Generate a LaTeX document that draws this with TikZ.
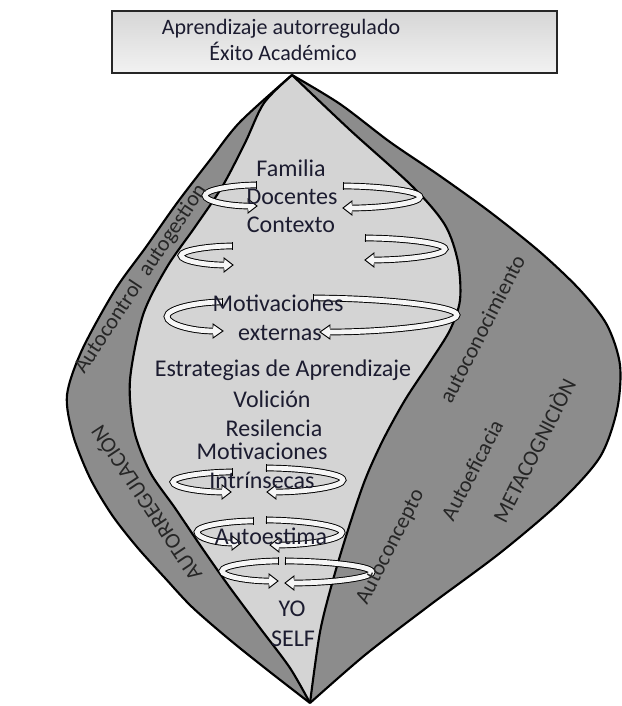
\documentclass[tikz,border=0pt]{standalone}
\usepackage{fontspec}
\setmainfont{Carlito}
\definecolor{darkband}{RGB}{140,140,140}
\definecolor{lightband}{RGB}{212,212,212}
\definecolor{arrowfill}{RGB}{246,246,246}
\definecolor{ink}{RGB}{28,28,48}
\definecolor{inkgray}{RGB}{38,38,38}
\definecolor{boxtop}{RGB}{214,214,214}
\definecolor{boxbot}{RGB}{242,242,242}

% U-turn arrow: #1 x of flat top end, #2 y top arm, #3 x of loop extreme,
% #4 y bottom arm, #5 x of arrow-head base, #6 signed head length
\newcommand{\uturnarrow}[6]{%
  \pgfmathsetmacro{\ymid}{(#2+#4)/2}%
  \pgfmathsetmacro{\ca}{#3+0.55*(#1-#3)}%
  \pgfmathsetmacro{\cb}{#3+0.55*(#5-#3)}%
  \pgfmathsetmacro{\hh}{0.55*(#4-#2)/2}%
  \pgfmathsetmacro{\ya}{\ymid-\hh}%
  \pgfmathsetmacro{\yb}{\ymid+\hh}%
  \pgfmathsetmacro{\tip}{#5+#6}%
  \draw[uband] (#1,#2) .. controls (\ca,#2) and (#3,\ya) .. (#3,\ymid)
     .. controls (#3,\yb) and (\cb,#4) .. (#5,#4);
  \draw[line width=0.7pt] (#1,#2-3.7) -- (#1,#2+3.7);
  \filldraw[fill=arrowfill, line width=0.7pt]
     (#5,#4-3.7) -- (#5,#4-7) -- (\tip,#4) -- (#5,#4+7) -- (#5,#4+3.7);
}

\begin{document}
\begin{tikzpicture}[x=0.75pt,y=-0.75pt,
  edge/.style={line width=1.6pt,black},
  uband/.style={double=arrowfill,double distance=3.6pt,line width=0.7pt,black},
  lbl/.style={font=\fontsize{18}{21}\selectfont,text=ink,inner sep=0pt},
  boxlbl/.style={font=\fontsize{16.5}{19}\selectfont,text=ink,inner sep=0pt},
  rlbl/.style={font=\fontsize{16.5}{19}\selectfont,text=inkgray,inner sep=0pt}]
\useasboundingbox (0,0) rectangle (621,706);

% whole outer shape (dark)
\fill[darkband]
  plot[smooth] coordinates {(292,75) (240,122) (210,160) (177,203) (146,247) (115,290) (82,350) (67,395) (73,435) (90,478) (112,515) (137,547) (165,578) (192,607) (230,640) (270,672) (310,703)}
  -- plot[smooth] coordinates {(310,703) (365,655) (430,605) (500,553) (560,502) (600,457) (617,410) (620,365) (607,325) (580,290) (540,252) (490,212) (440,176) (390,142) (340,104) (292,75)}
  -- cycle;
% light central region
\fill[lightband]
  plot[smooth] coordinates {(292,75) (264,103) (245,143) (222,187) (195,227) (167,267) (143,315) (130,380) (134,430) (150,472) (175,508) (200,545) (228,585) (260,628) (290,668) (310,703)}
  -- plot[smooth] coordinates {(310,703) (320,632) (333,580) (348,530) (365,480) (383,440) (405,400) (430,362) (450,330) (460,300) (458,262) (445,225) (413,187) (350,130) (292,75)}
  -- cycle;
% outlines
\draw[edge] plot[smooth] coordinates {(292,75) (240,122) (210,160) (177,203) (146,247) (115,290) (82,350) (67,395) (73,435) (90,478) (112,515) (137,547) (165,578) (192,607) (230,640) (270,672) (310,703)};
\draw[edge] plot[smooth] coordinates {(310,703) (365,655) (430,605) (500,553) (560,502) (600,457) (617,410) (620,365) (607,325) (580,290) (540,252) (490,212) (440,176) (390,142) (340,104) (292,75)};
\draw[edge] plot[smooth] coordinates {(292,75) (264,103) (245,143) (222,187) (195,227) (167,267) (143,315) (130,380) (134,430) (150,472) (175,508) (200,545) (228,585) (260,628) (290,668) (310,703)};
\draw[edge] plot[smooth] coordinates {(310,703) (320,632) (333,580) (348,530) (365,480) (383,440) (405,400) (430,362) (450,330) (460,300) (458,262) (445,225) (413,187) (350,130) (292,75)};

% U-turn arrows
\uturnarrow{256}{185}{205}{206}{248}{9}
\uturnarrow{343}{186}{420}{208}{352}{-9}
\uturnarrow{232}{246}{181}{265}{224}{9}
\uturnarrow{365}{238}{445}{260}{374}{-9}
\uturnarrow{222}{302}{167}{331}{213}{10}
\uturnarrow{313}{298}{457}{332}{330}{-10}
\uturnarrow{232}{472}{173}{492}{222}{9}
\uturnarrow{266}{468}{343}{492}{276}{-9}
\uturnarrow{253}{521}{197}{543}{232}{9}
\uturnarrow{266}{520}{342}{545}{279}{-9}
\uturnarrow{278}{561}{222}{581}{269}{9}
\uturnarrow{285}{561}{372}{583}{294}{-9}

% centre texts
\node[lbl,anchor=base] (familia) at (291,176) {Familia};
\node[lbl,anchor=base] (docentes) at (292,204) {Docentes};
\node[lbl,anchor=base] (contexto) at (291,232) {Contexto};
\node[lbl,anchor=base] (motext) at (278,311) {Motivaciones};
\node[lbl,anchor=base] (externas) at (280,340) {externas};
\node[lbl,anchor=base] (estrat) at (283,376) {Estrategias de Aprendizaje};
\node[lbl,anchor=base] (volicion) at (272,407) {Volición};
\node[lbl,anchor=base] (resil) at (274,436) {Resilencia};
\node[lbl,anchor=base] (motint) at (262,459) {Motivaciones};
\node[lbl,anchor=base] (intrin) at (262,488) {Intrínsecas};
\node[lbl,anchor=base] (autoest) at (271,544) {Autoestima};
\node[lbl,anchor=base] (yo) at (292,616) {YO};
\node[lbl,anchor=base] (self) at (293,646) {SELF};

% rotated labels in the bands
\node[rlbl,rotate=56.5] (autoctl) at (141,279) {Autocontrol\ \ autogestion};
\node[rlbl,rotate=123.6] (autoreg) at (145,504) {AUTORREGULACIÓN};
\node[rlbl,rotate=62.8] (autocon) at (482,329) {autoconocimiento};
\node[rlbl,rotate=62.5] (autoefi) at (472,470) {Autoeficacia};
\node[rlbl,rotate=63] (metacog) at (533,450) {METACOGNICIÒN};
\node[rlbl,rotate=63] (autocpt) at (391,547) {Autoconcepto};

% top box
\node[draw=black!85,line width=1pt,top color=boxtop,bottom color=boxbot,
  minimum width=333.75pt,minimum height=46.5pt,inner sep=0pt] (box) at (334.5,42) {};
\node[boxlbl,anchor=base] (title1) at (281,35) {Aprendizaje autorregulado};
\node[boxlbl,anchor=base] (title2) at (283,61) {Éxito Académico};
\end{tikzpicture}
\end{document}
